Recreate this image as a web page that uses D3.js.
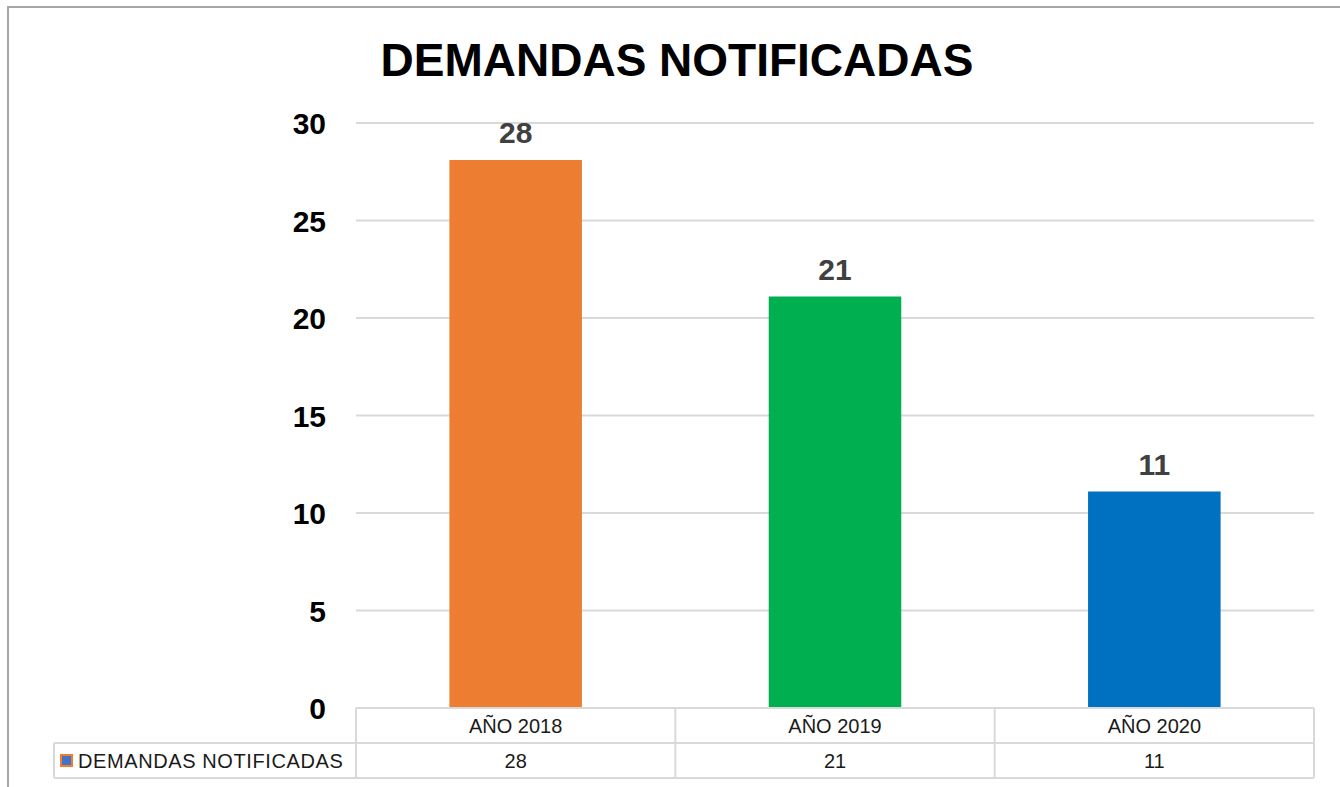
<!DOCTYPE html>
<html>
<head>
<meta charset="utf-8">
<script src="https://cdn.jsdelivr.net/npm/d3@7"></script>
<style>
  body { margin: 0; background: #fff; }
  svg { display: block; }
</style>
</head>
<body>
<div id="chart"></div>
<script>
const title = "DEMANDAS NOTIFICADAS";
const seriesName = "DEMANDAS NOTIFICADAS";
const categories = ["AÑO 2018", "AÑO 2019", "AÑO 2020"];
const values = [28, 21, 11];
const barColors = ["#ed7d31", "#00b050", "#0070c0"];
const yTicks = [0, 5, 10, 15, 20, 25, 30];

const W = 1340, H = 787;
const plot = {left: 356, right: 1314, top: 123, bottom: 708};
const rowH = 35;
const legendLeft = 54;
const gridColor = "#d9d9d9";

const svg = d3.select("#chart").append("svg")
    .attr("width", W)
    .attr("height", H);

// Outer chart border (right and bottom run off the page)
svg.append("rect")
    .attr("x", 8).attr("y", 7)
    .attr("width", W + 20).attr("height", H + 20)
    .attr("fill", "#fff")
    .attr("stroke", "#a6a6a6")
    .attr("stroke-width", 2);

const x = d3.scaleBand()
    .domain(categories)
    .range([plot.left, plot.right])
    .paddingInner(0.585)
    .paddingOuter(0.2925);

const y = d3.scaleLinear()
    .domain([0, 30])
    .range([plot.bottom, plot.top]);

// Gridlines
svg.append("g")
    .selectAll("line")
    .data(yTicks.filter(d => d > 0))
    .enter().append("line")
    .attr("x1", plot.left)
    .attr("x2", plot.right)
    .attr("y1", d => y(d))
    .attr("y2", d => y(d))
    .attr("stroke", gridColor)
    .attr("stroke-width", 2);

// Y axis labels
const yAxis = svg.append("g")
    .attr("transform", `translate(${plot.left},0)`)
    .call(d3.axisLeft(y).tickValues(yTicks).tickSize(0).tickPadding(30));
yAxis.select(".domain").remove();
yAxis.selectAll("text")
    .attr("dy", "0.36em")
    .style("font-family", "'Liberation Sans', Arial, sans-serif")
    .style("font-size", "30px")
    .style("font-weight", "bold")
    .style("fill", "#000");

// Bars
svg.selectAll(".bar")
    .data(values)
    .enter().append("rect")
    .attr("class", "bar")
    .attr("x", (d, i) => x(categories[i]))
    .attr("width", x.bandwidth())
    .attr("y", d => y(d) - 2)
    .attr("height", d => y(0) - y(d) + 2)
    .attr("fill", (d, i) => barColors[i]);

// Value labels
svg.selectAll(".label")
    .data(values)
    .enter().append("text")
    .attr("class", "label")
    .attr("x", (d, i) => x(categories[i]) + x.bandwidth() / 2)
    .attr("y", d => y(d) - 19)
    .attr("text-anchor", "middle")
    .style("font-family", "'Liberation Sans', Arial, sans-serif")
    .style("font-size", "30px")
    .style("font-weight", "bold")
    .style("fill", "#404040")
    .text(d => d);

// Data table
const table = svg.append("g");
const step = x.step();
const colEdges = categories.map((c, i) => plot.left + i * step).concat([plot.right]);

function hline(x1, x2, yy) {
    table.append("line")
        .attr("x1", x1).attr("x2", x2)
        .attr("y1", yy).attr("y2", yy)
        .attr("stroke", gridColor).attr("stroke-width", 2);
}
function vline(xx, y1, y2) {
    table.append("line")
        .attr("x1", xx).attr("x2", xx)
        .attr("y1", y1).attr("y2", y2)
        .attr("stroke", gridColor).attr("stroke-width", 2);
}

hline(plot.left, plot.right, plot.bottom);
hline(legendLeft, plot.right, plot.bottom + rowH);
hline(legendLeft, plot.right, plot.bottom + 2 * rowH);
colEdges.forEach(cx => vline(cx, plot.bottom, plot.bottom + 2 * rowH));
vline(legendLeft, plot.bottom + rowH, plot.bottom + 2 * rowH);

const tableFont = "'Liberation Sans', Arial, sans-serif";

table.selectAll(".cat")
    .data(categories)
    .enter().append("text")
    .attr("class", "cat")
    .attr("x", d => x(d) + x.bandwidth() / 2)
    .attr("y", plot.bottom + rowH / 2)
    .attr("dy", "0.36em")
    .attr("text-anchor", "middle")
    .style("font-family", tableFont)
    .style("font-size", "20px")
    .style("fill", "#1a1a1a")
    .text(d => d);

table.selectAll(".val")
    .data(values)
    .enter().append("text")
    .attr("class", "val")
    .attr("x", (d, i) => x(categories[i]) + x.bandwidth() / 2)
    .attr("y", plot.bottom + rowH * 1.5)
    .attr("dy", "0.36em")
    .attr("text-anchor", "middle")
    .style("font-family", tableFont)
    .style("font-size", "20px")
    .style("fill", "#1a1a1a")
    .text(d => d);

// Legend key in the table
table.append("rect")
    .attr("x", 61).attr("y", plot.bottom + rowH * 1.5 - 5.5)
    .attr("width", 11).attr("height", 11)
    .attr("fill", "#4472c4")
    .attr("stroke", "#ed7d31")
    .attr("stroke-width", 2);

table.append("text")
    .attr("x", 78)
    .attr("y", plot.bottom + rowH * 1.5)
    .attr("dy", "0.36em")
    .style("font-family", tableFont)
    .style("font-size", "20px")
    .style("letter-spacing", "0.6px")
    .style("fill", "#1a1a1a")
    .text(seriesName);

// Title
svg.append("text")
    .attr("x", 677)
    .attr("y", 76)
    .attr("text-anchor", "middle")
    .style("font-family", "'Liberation Sans', Arial, sans-serif")
    .style("font-size", "46px")
    .style("font-weight", "bold")
    .style("fill", "#000")
    .text(title);
</script>
</body>
</html>
